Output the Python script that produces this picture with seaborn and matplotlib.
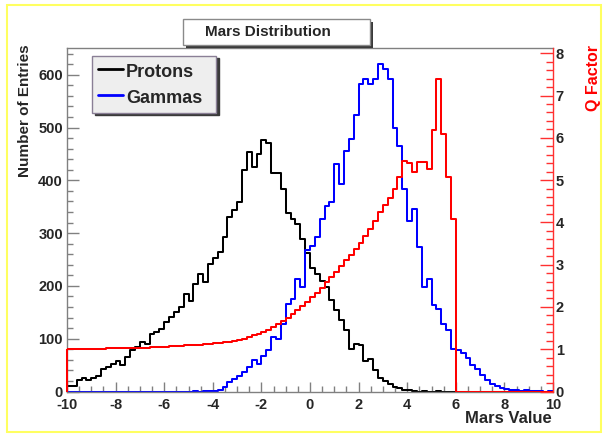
import numpy as np
import pandas as pd
import matplotlib
matplotlib.use("Agg")
import matplotlib.pyplot as plt
import seaborn as sns
from matplotlib.lines import Line2D
from matplotlib.patches import Rectangle
from matplotlib.ticker import MultipleLocator

sns.set_style("white")
plt.rcParams["font.family"] = ["Liberation Sans", "DejaVu Sans"]

# ---------------- data (100 bins from -10 to 10) ----------------
protons = [
    11, 10, 22, 26, 22, 25, 30, 43, 46, 53,
    58, 51, 66, 78, 84, 93, 90, 108, 113, 119,
    131, 141, 150, 160, 185, 172, 204, 223, 207, 242,
    252, 264, 292, 330, 343, 359, 419, 453, 425, 450,
    476, 470, 413, 413, 384, 338, 327, 318, 289, 262,
    233, 222, 210, 198, 174, 155, 136, 116, 80, 90,
    88, 57, 62, 40, 25, 20, 14, 8, 6, 3,
    2, 1, 0, 1, 0, 0, 1, 0, 0, 0,
    0, 0, 0, 0, 0, 0, 0, 0, 0, 0,
    0, 0, 0, 0, 0, 0, 0, 0, 0, 0,
]
gammas = [
    0, 0, 0, 0, 0, 0, 0, 0, 0, 0,
    0, 0, 0, 0, 0, 0, 0, 0, 0, 0,
    0, 0, 0, 0, 0, 0, 1, 0, 1, 1,
    1, 2, 8, 18, 24, 30, 37, 46, 59, 53,
    68, 78, 103, 100, 128, 166, 176, 213, 198, 268,
    276, 292, 327, 352, 359, 431, 393, 456, 479, 523,
    583, 592, 583, 592, 621, 610, 592, 499, 465, 384,
    322, 345, 273, 198, 213, 163, 157, 127, 116, 81,
    78, 72, 64, 50, 42, 32, 22, 15, 11, 7,
    4, 2, 2, 1, 2, 1, 1, 1, 0, 1,
]
q_factor = [
    1.00, 1.00, 1.00, 1.00, 1.01, 1.01, 1.01, 1.01, 1.02, 1.02,
    1.02, 1.02, 1.03, 1.03, 1.03, 1.04, 1.04, 1.05, 1.05, 1.06,
    1.06, 1.07, 1.07, 1.08, 1.09, 1.09, 1.10, 1.11, 1.12, 1.13,
    1.14, 1.15, 1.16, 1.18, 1.20, 1.22, 1.25, 1.29, 1.33, 1.37,
    1.41, 1.46, 1.52, 1.59, 1.66, 1.74, 1.83, 1.92, 2.02, 2.12,
    2.23, 2.34, 2.46, 2.58, 2.70, 2.83, 2.97, 3.10, 3.24, 3.38,
    3.52, 3.67, 3.84, 4.04, 4.25, 4.42, 4.58, 4.80, 5.08, 5.45,
    5.40, 5.20, 5.43, 5.43, 5.26, 6.18, 7.40, 6.10, 5.07, 4.07,
    0, 0, 0, 0, 0, 0, 0, 0, 0, 0,
    0, 0, 0, 0, 0, 0, 0, 0, 0, 0,
]
series_labels = ["Protons", "Gammas"]
x_ticks = [-10, -8, -6, -4, -2, 0, 2, 4, 6, 8, 10]
left_ticks = [0, 100, 200, 300, 400, 500, 600]
right_ticks = [0, 1, 2, 3, 4, 5, 6, 7, 8]
title_text = "Mars Distribution"
x_label = "Mars Value"
y_label = "Number of Entries"
y2_label = "Q Factor"

edges = np.linspace(-10, 10, len(protons) + 1)
centers = (edges[:-1] + edges[1:]) / 2
bin_list = [float(e) for e in edges]
df = pd.DataFrame({"mars": centers, "Protons": protons,
                   "Gammas": gammas, "Q": q_factor})

# ---------------- figure ----------------
W, H = 608, 434
fig = plt.figure(figsize=(W / 100, H / 100), dpi=100)
fig.patch.set_facecolor("white")

x0, x1, y0, y1 = 67, 553, 48.3, 391.5
ax = fig.add_axes([x0 / W, 1 - y1 / H, (x1 - x0) / W, (y1 - y0) / H])

LW = 1.45
sns.histplot(data=df, x="mars", weights="Protons", bins=bin_list, element="step",
             fill=False, color="black", linewidth=LW, ax=ax)
sns.histplot(data=df, x="mars", weights="Gammas", bins=bin_list, element="step",
             fill=False, color="#0000ff", linewidth=LW, ax=ax)

ax2 = ax.twinx()
sns.histplot(data=df, x="mars", weights="Q", bins=bin_list, element="step",
             fill=False, color="#ff0000", linewidth=LW, ax=ax2)
# rising edge of the Q-factor outline at the first bin edge
ax2.vlines(edges[0], 0, q_factor[0], color="#ff0000", linewidth=LW,
           clip_on=False)

# ---------------- axes styling ----------------
grey = "#808080"
ax.set_xlim(-10, 10)
ax.set_ylim(0, 650)
ax.set_xticks(x_ticks)
ax.set_xticklabels([str(t) for t in x_ticks])
ax.xaxis.set_minor_locator(MultipleLocator(0.5))
ax.set_yticks(left_ticks)
ax.set_yticklabels([str(t) for t in left_ticks])
ax.yaxis.set_minor_locator(MultipleLocator(20))
ax.tick_params(axis="both", which="both", direction="in", color=grey, width=1,
               bottom=True, left=True, top=False, right=False,
               labelsize=10.5)
ax.tick_params(axis="x", which="major", length=7.5, pad=5)
ax.tick_params(axis="x", which="minor", length=4)
ax.tick_params(axis="y", which="major", length=8.5, pad=3)
ax.tick_params(axis="y", which="minor", length=4.5)
for lab in ax.get_xticklabels() + ax.get_yticklabels():
    lab.set_fontweight("bold")
for s in ["left", "top", "bottom"]:
    ax.spines[s].set_color(grey)
    ax.spines[s].set_linewidth(1)
ax.spines["right"].set_visible(False)

ax.set_xlabel(x_label, loc="right", fontsize=12, fontweight="bold")
ax.xaxis.set_label_coords(0.998, -(411 - y1) / (y1 - y0))
ax.set_ylabel(y_label, loc="top", fontsize=11, fontweight="bold")
ax.yaxis.set_label_coords((32 - x0) / (x1 - x0), 1.01)

ax2.set_ylim(0, 8 * (y1 - y0) / (y1 - 53.3))
ax2.set_yticks(right_ticks)
ax2.set_yticklabels([str(t) for t in right_ticks])
ax2.yaxis.set_minor_locator(MultipleLocator(0.2))
ax2.tick_params(axis="y", which="both", direction="in", color="#ff3030",
                width=1, right=True, left=False, labelright=True,
                labelleft=False, labelsize=10.5, pad=2)
ax2.tick_params(axis="y", which="major", length=9.5)
ax2.tick_params(axis="y", which="minor", length=5)
for lab in ax2.get_yticklabels():
    lab.set_fontweight("bold")
for s in ["left", "top", "bottom"]:
    ax2.spines[s].set_visible(False)
ax2.spines["right"].set_color("#ff3030")
ax2.spines["right"].set_linewidth(1)
ax2.set_ylabel(y2_label, loc="top", fontsize=11.5, fontweight="bold",
               color="#ff0000")
ax2.yaxis.set_label_coords((586 - x0) / (x1 - x0), 1.01)

# ---------------- legend ----------------
handles = [Line2D([], [], color="black", lw=2),
           Line2D([], [], color="#0000ff", lw=2)]
leg = ax2.legend(handles=handles, labels=series_labels, loc="upper left",
                 bbox_to_anchor=((92 - x0) / (x1 - x0), 1 - (59 - y0) / (y1 - y0),
                                 124 / (x1 - x0), 0.01),
                 mode="expand", borderaxespad=0, frameon=True, fancybox=False,
                 shadow={"color": "#3a3a3a", "alpha": 1},
                 facecolor="#eeeeee", edgecolor="#8a7f96", framealpha=1,
                 handlelength=1.4, handletextpad=0.17, borderpad=0.32,
                 handleheight=1.27, labelspacing=0.33,
                 prop={"weight": "bold", "size": 13})
leg.get_frame().set_linewidth(1)

# ---------------- title box ----------------
bx0, by0, bx1, by1 = 183, 19.5, 370, 44.5
fig.patches.append(Rectangle(((bx0 + 3) / W, 1 - (by1 + 3) / H),
                             (bx1 - bx0) / W, (by1 - by0) / H,
                             transform=fig.transFigure, facecolor="#3a3a3a",
                             edgecolor="none", zorder=1))
fig.patches.append(Rectangle((bx0 / W, 1 - by1 / H),
                             (bx1 - bx0) / W, (by1 - by0) / H,
                             transform=fig.transFigure, facecolor="white",
                             edgecolor="#8a8a8a", lw=1, zorder=2))
fig.text(268 / W, 1 - 31.5 / H, title_text, ha="center", va="center",
         fontsize=11, fontweight="bold", zorder=3)

# ---------------- outer canvas border ----------------
fig.patches.append(Rectangle((7 / W, 1 - 432 / H), (601 - 7) / W, (432 - 5) / H,
                             transform=fig.transFigure, fill=False,
                             edgecolor="#ffff60", lw=1.5, zorder=0))

fig.savefig("out.png", dpi=100)
